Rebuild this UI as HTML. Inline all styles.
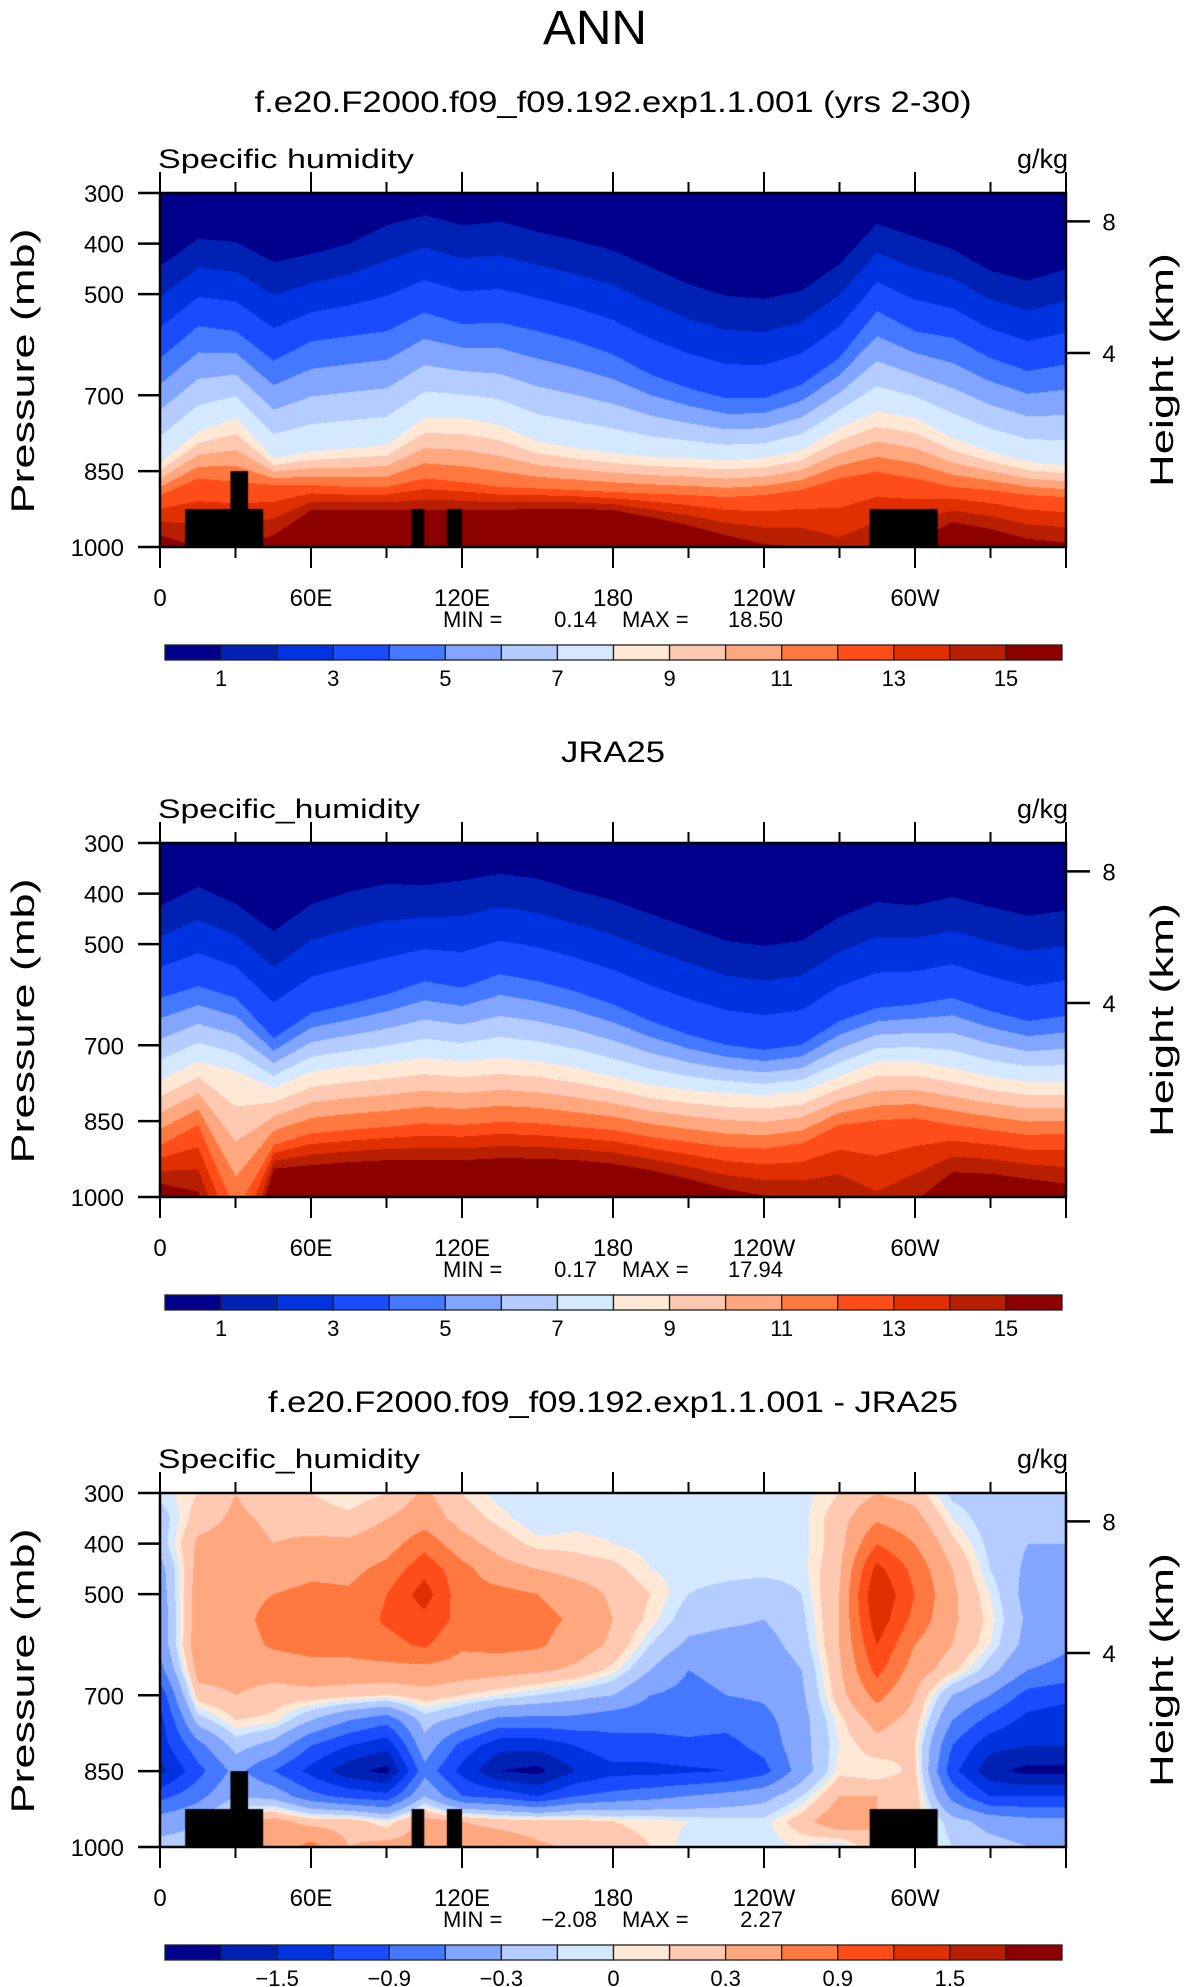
<!DOCTYPE html>
<html><head><meta charset="utf-8">
<style>
html,body{margin:0;padding:0;background:#fff;}
#wrap{position:relative;width:1190px;height:1987px;overflow:hidden;background:#fff;}
canvas{position:absolute;}
svg{position:absolute;left:0;top:0;}
text{font-family:"Liberation Sans",Arial,sans-serif;fill:#000;}
</style></head>
<body>
<div id="wrap">
<canvas id="c1" width="906" height="354" style="left:160px;top:193px"></canvas>
<canvas id="c2" width="906" height="354" style="left:160px;top:843px"></canvas>
<canvas id="c3" width="906" height="354" style="left:160px;top:1493px"></canvas>
<svg id="ov" width="1190" height="1987"></svg>
</div>
<script>
// ---------- data ----------
const LONS = [0,15,30,45,60,75,90,105,120,135,150,165,180,195,210,225,240,255,270,285,300,315,330,345,360];
const ANCHOR_Q = [1,4,8,12,15];
// model: pressure (mb) where q equals each anchor value
const m_q1  = [443,390,396,436,420,400,363,343,363,356,376,393,413,446,480,503,509,493,440,360,386,410,453,473,450];
const m_q4  = [626,563,573,632,593,583,573,536,559,556,573,593,619,659,686,706,706,679,626,533,573,586,626,652,639];
const m_q8  = [832,772,745,825,812,805,799,745,745,759,792,805,815,822,825,829,825,809,765,732,745,785,812,832,839];
const m_q12 = [898,865,872,878,878,882,882,865,872,882,885,888,892,895,898,902,898,888,865,852,865,882,888,898,902];
const m_q15 = [978,1000,1000,978,928,928,928,928,928,928,925,925,928,942,958,978,995,1001,1040,1000,990,952,965,985,992];
// JRA25
const j_q1  = [423,386,420,474,420,396,380,383,373,360,370,393,413,440,466,493,503,493,446,416,423,406,426,443,433];
const j_q4  = [606,583,606,686,636,619,599,573,586,559,573,593,619,652,679,699,709,699,652,626,619,606,632,652,642];
const j_q8  = [769,732,752,785,752,742,735,725,732,725,732,745,762,779,789,795,799,792,762,732,732,745,762,772,772];
const j_q12 = [898,858,1030,898,875,868,862,855,858,852,855,862,868,882,892,902,905,895,858,849,845,858,868,878,875];
const j_q15 = [975,990,1200,945,938,932,928,928,928,924,925,928,935,948,965,985,998,1005,1005,1060,1010,952,955,965,975];
// difference grid: pressure levels and one column per longitude
const DIFF_P = [300,350,400,450,500,550,600,650,700,750,800,850,900,950,1000];
const diffCols = [
[-0.05,-0.2,-0.2,-0.4,-0.45,-0.5,-0.5,-0.7,-1.1,-1.3,-1.35,-1.6,-1.0,-0.45,-0.2],
[0.1,0.2,0.35,0.4,0.45,0.45,0.5,0.4,0.2,-0.2,-0.7,-1.0,-0.7,-0.3,-0.2],
[0.3,0.35,0.4,0.5,0.5,0.5,0.45,0.4,0.3,0.1,-0.2,-0.5,-0.3,0.2,0.2],
[0.15,0.25,0.3,0.4,0.6,0.7,0.65,0.4,0.2,0.05,-0.4,-0.9,-0.4,0.4,0.4],
[0.1,0.2,0.35,0.5,0.7,0.75,0.7,0.5,0.2,-0.3,-0.9,-1.3,-0.8,0.2,0.7],
[0.0,0.15,0.35,0.5,0.65,0.7,0.7,0.5,0.15,-0.6,-1.2,-1.7,-1.0,0.2,0.3],
[0.1,0.3,0.45,0.7,0.9,0.95,0.8,0.5,0.1,-0.8,-1.4,-1.9,-1.1,0.0,0.4],
[0.35,0.45,0.8,1.1,1.35,1.1,0.95,0.5,0.2,-0.2,-0.4,-0.7,-0.3,0.4,0.4],
[0.1,0.2,0.4,0.7,0.7,0.8,0.65,0.45,0.1,-0.4,-1.0,-1.3,-0.9,0.3,0.5],
[-0.05,0.05,0.2,0.4,0.7,0.8,0.7,0.4,0.0,-0.7,-1.4,-1.8,-1.0,0.2,0.5],
[-0.1,-0.1,0.05,0.3,0.6,0.7,0.65,0.35,-0.1,-0.7,-1.4,-1.9,-1.2,0.15,0.35],
[-0.05,-0.05,0.05,0.2,0.45,0.55,0.45,0.25,-0.2,-0.7,-1.2,-1.5,-0.9,0.15,0.25],
[-0.05,-0.05,0.0,0.15,0.25,0.3,0.25,0.05,-0.3,-0.8,-1.0,-1.3,-0.8,0.1,0.2],
[-0.05,-0.05,-0.05,0.0,0.1,0.05,-0.1,-0.3,-0.6,-0.8,-1.0,-1.3,-0.7,0.05,0.1],
[-0.05,-0.05,-0.05,-0.05,-0.1,-0.2,-0.35,-0.6,-0.7,-0.8,-0.95,-1.25,-0.6,0.0,-0.05],
[-0.05,-0.05,-0.05,-0.05,-0.15,-0.25,-0.4,-0.5,-0.6,-0.8,-1.0,-1.2,-0.5,-0.05,-0.1],
[-0.05,-0.05,-0.05,-0.05,-0.2,-0.3,-0.4,-0.5,-0.55,-0.7,-0.8,-1.0,-0.4,-0.05,-0.05],
[-0.05,-0.05,-0.05,-0.05,-0.1,-0.15,-0.2,-0.3,-0.35,-0.4,-0.4,-0.45,-0.1,0.2,0.0],
[0.1,0.2,0.2,0.25,0.3,0.3,0.3,0.25,0.2,0.05,0.0,0.05,0.3,0.5,-0.1],
[0.3,0.55,0.9,1.3,1.5,1.4,1.2,1.0,0.7,0.4,0.2,0.0,0.3,0.3,0.3],
[0.2,0.4,0.6,0.8,0.9,0.8,0.6,0.45,0.3,0.2,0.1,0.15,0.2,0.2,0.2],
[-0.15,0.0,0.15,0.3,0.35,0.35,0.3,0.15,-0.3,-0.6,-0.9,-1.1,-0.7,-0.2,-0.1],
[-0.2,-0.2,-0.15,-0.1,0.0,0.05,0.0,-0.2,-0.6,-1.0,-1.4,-1.7,-1.2,-0.4,-0.2],
[-0.2,-0.25,-0.3,-0.35,-0.4,-0.35,-0.4,-0.6,-1.0,-1.3,-1.5,-1.9,-1.2,-0.5,-0.3],
[-0.1,-0.2,-0.3,-0.35,-0.45,-0.5,-0.55,-0.7,-1.1,-1.4,-1.5,-1.9,-1.2,-0.5,-0.4]
];
const Q_LEVELS = [1,2,3,4,5,6,7,8,9,10,11,12,13,14,15];
const D_LEVELS = [-1.8,-1.5,-1.2,-0.9,-0.6,-0.3,-0.1,0,0.1,0.3,0.6,0.9,1.2,1.5,1.8];
const Q_TICKS = ["1","3","5","7","9","11","13","15"];
const D_TICKS = ["\u22121.5","\u22120.9","\u22120.3","0","0.3","0.9","1.5"];
// topography blocks: [lonStart, lonEnd, topPressure]
const TOPO_LON0 = [10,28,100,114,282];
const TOPO_LON1 = [41,35,105,120,309];
const TOPO_TOP  = [925,850,925,925,925];
const P_TICKS = [300,400,500,700,850,1000];
const X_TICK_LONS = [0,60,120,180,240,300];
const X_TICK_LABELS = ["0","60E","120E","180","120W","60W"];
const H_TICKS = [8,4];
const COLORS = ["#00008C","#0022B4","#0033E0","#1A4BFF","#4478FF","#82A6FF","#B4CCFF","#D4E8FF","#FFE8D6","#FFC8B0","#FFA880","#FF7840","#FF4D1A","#E03000","#B81E00","#8C0000"];

// ---------- axes ----------
const PL=160, PW=906, PH=354;
const TOPS=[193,843,1493];
function xOf(lon){return PL+lon/360*PW;}
function yOf(p,top){return top+(p-300)/700*PH;}
function lonOfPx(px){return px/(PW-1)*360;}
function pOfPx(py){return 300+py/(PH-1)*700;}
function pOfZ(km){return 1013.25*Math.pow(1-2.25577e-5*km*1000,5.25588);}

function rgb(h){return [parseInt(h.substr(1,2),16),parseInt(h.substr(3,2),16),parseInt(h.substr(5,2),16)];}
const RGB=COLORS.map(rgb);
function colorIdx(v,levels){let i=0;while(i<levels.length&&v>=levels[i])i++;return i;}
function lonInterp(arr,lon){
  let i=Math.min(Math.floor(lon/15),LONS.length-2);const t=(lon-LONS[i])/15;
  return arr[i]*(1-t)+arr[i+1]*t;
}
function profileQ(p,anch){
  if(p<=anch[0]) return 0.2+0.8*(p-300)/(anch[0]-300);
  for(let k=0;k<anch.length-1;k++){
    if(p<=anch[k+1]) return ANCHOR_Q[k]+(ANCHOR_Q[k+1]-ANCHOR_Q[k])*(p-anch[k])/(anch[k+1]-anch[k]);
  }
  return 15+(p-anch[anch.length-1])*0.05;
}
function drawField(id,valueAt,levels,topo){
  const cv=document.getElementById(id),ctx=cv.getContext('2d');
  const img=ctx.createImageData(PW,PH);
  for(let px=0;px<PW;px++){
    const lon=lonOfPx(px);const col=valueAt(lon);
    for(let py=0;py<PH;py++){
      const v=col(pOfPx(py));const c=RGB[colorIdx(v,levels)];
      const o=(py*PW+px)*4;img.data[o]=c[0];img.data[o+1]=c[1];img.data[o+2]=c[2];img.data[o+3]=255;
    }
  }
  ctx.putImageData(img,0,0);
  if(topo){
    ctx.fillStyle='#000';
    for(let i=0;i<TOPO_LON0.length;i++){
      const x0=xOf(TOPO_LON0[i])-PL,x1=xOf(TOPO_LON1[i])-PL,y0=yOf(TOPO_TOP[i],0);
      ctx.fillRect(x0,y0,x1-x0,PH-y0);
    }
  }
}
function anchorField(a1,a4,a8,a12,a15){
  return lon=>{const an=[lonInterp(a1,lon),lonInterp(a4,lon),lonInterp(a8,lon),lonInterp(a12,lon),lonInterp(a15,lon)];
    for(let k=1;k<an.length;k++) if(an[k]<=an[k-1]+1) an[k]=an[k-1]+1;
    return p=>profileQ(p,an);};
}
function diffField(lon){
  let i=Math.min(Math.floor(lon/15),LONS.length-2);const t=(lon-LONS[i])/15;
  const a=diffCols[i],b=diffCols[i+1];
  return p=>{let j=Math.min(Math.floor((p-300)/50),DIFF_P.length-2);const s=(p-DIFF_P[j])/50;
    const va=a[j]*(1-s)+a[j+1]*s, vb=b[j]*(1-s)+b[j+1]*s;return va*(1-t)+vb*t;};
}
drawField('c1',anchorField(m_q1,m_q4,m_q8,m_q12,m_q15),Q_LEVELS,true);
drawField('c2',anchorField(j_q1,j_q4,j_q8,j_q12,j_q15),Q_LEVELS,false);
drawField('c3',diffField,D_LEVELS,true);

// ---------- SVG annotations ----------
const NS='http://www.w3.org/2000/svg';const svg=document.getElementById('ov');
function el(tag,attrs,parent){const e=document.createElementNS(NS,tag);for(const k in attrs)e.setAttribute(k,attrs[k]);(parent||svg).appendChild(e);return e;}
function txt(s,attrs,parent){const e=el('text',attrs,parent);e.textContent=s;return e;}

const main=txt('ANN',{x:595,y:44,'text-anchor':'middle','font-size':48,'textLength':104,'lengthAdjust':'spacingAndGlyphs'});



const PANELS=[
 {title:'f.e20.F2000.f09_f09.192.exp1.1.001 (yrs 2-30)',tw:717,sub:'Specific humidity',sw:256,min:'0.14',max:'18.50',ticks:Q_TICKS,tickIdx:[1,3,5,7,9,11,13,15],name:'model'},
 {title:'JRA25',tw:104,sub:'Specific_humidity',sw:262,min:'0.17',max:'17.94',ticks:Q_TICKS,tickIdx:[1,3,5,7,9,11,13,15],name:'jra25'},
 {title:'f.e20.F2000.f09_f09.192.exp1.1.001 - JRA25',tw:690,sub:'Specific_humidity',sw:262,min:'\u22122.08',max:'2.27',ticks:D_TICKS,tickIdx:[2,4,6,8,10,12,14],name:'difference'}
];
PANELS.forEach((P,k)=>{
  const T=TOPS[k];
  const g=el('g',{});
  
  
  const t=txt(P.title,{x:613,y:T-81,'text-anchor':'middle','font-size':30,'textLength':P.tw,'lengthAdjust':'spacingAndGlyphs'},g);
  
  
  const s=txt(P.sub,{x:158,y:T-25,'font-size':27,'textLength':P.sw,'lengthAdjust':'spacingAndGlyphs'},g);
  
  
  const u=txt('g/kg',{x:1068,y:T-25,'text-anchor':'end','font-size':27},g);
  
  
  // frame
  const fr=el('rect',{x:PL,y:T,width:PW,height:PH,fill:'none',stroke:'#000','stroke-width':2.5},g);
  
  
  // x ticks
  for(let lon=0;lon<=360;lon+=30){
    const major=lon%60===0,L=major?21:11,x=xOf(lon);
    const a=el('line',{x1:x,y1:T,x2:x,y2:T-L,stroke:'#000','stroke-width':2},g);
    
    
    const b=el('line',{x1:x,y1:T+PH,x2:x,y2:T+PH+L,stroke:'#000','stroke-width':2},g);
    
    
  }
  X_TICK_LONS.forEach((lon,i)=>{
    const l=txt(X_TICK_LABELS[i],{x:xOf(lon),y:T+PH+59,'text-anchor':'middle','font-size':24},g);
    
    
  });
  // y ticks
  P_TICKS.forEach(p=>{
    const y=yOf(p,T);
    const a=el('line',{x1:PL-22,y1:y,x2:PL,y2:y,stroke:'#000','stroke-width':2.5},g);
    
    
    const l=txt(String(p),{x:124,y:y+9,'text-anchor':'end','font-size':24},g);
    
    
  });
  // height ticks
  H_TICKS.forEach(z=>{
    const y=yOf(pOfZ(z),T);
    const a=el('line',{x1:PL+PW,y1:y,x2:PL+PW+24,y2:y,stroke:'#000','stroke-width':2.5},g);
    
    
    const l=txt(String(z),{x:1109,y:y+9,'text-anchor':'middle','font-size':24},g);
    
    
  });
  const ya=txt('Pressure (mb)',{x:0,y:0,'text-anchor':'middle','font-size':32,'textLength':285,'lengthAdjust':'spacingAndGlyphs',transform:'translate(34,'+(T+178)+') rotate(-90)'},g);
  
  
  const ha=txt('Height (km)',{x:0,y:0,'text-anchor':'middle','font-size':32,'textLength':234,'lengthAdjust':'spacingAndGlyphs',transform:'translate(1173,'+(T+177)+') rotate(-90)'},g);
  
  
  // min / max
  const mn=txt('MIN =',{x:443,y:T+PH+80,'font-size':22},g);
  
  
  const mv=txt(P.min,{x:597,y:T+PH+80,'text-anchor':'end','font-size':22},g);
  
  
  const mx=txt('MAX =',{x:622,y:T+PH+80,'font-size':22},g);
  
  
  const xv=txt(P.max,{x:783,y:T+PH+80,'text-anchor':'end','font-size':22},g);
  
  
  // colorbar
  const cb0=165,cb1=1062,cy=T+452,ch=15,bw=(cb1-cb0)/16;
  for(let i=0;i<16;i++){
    const r=el('rect',{x:cb0+i*bw,y:cy,width:bw,height:ch,fill:COLORS[i],stroke:'#222','stroke-width':1.3},g);
    
    
  }
  P.ticks.forEach((lab,i)=>{
    const l=txt(lab,{x:cb0+P.tickIdx[i]*bw,y:cy+41,'text-anchor':'middle','font-size':22},g);
    
    
  });
});
</script>
</body></html>
